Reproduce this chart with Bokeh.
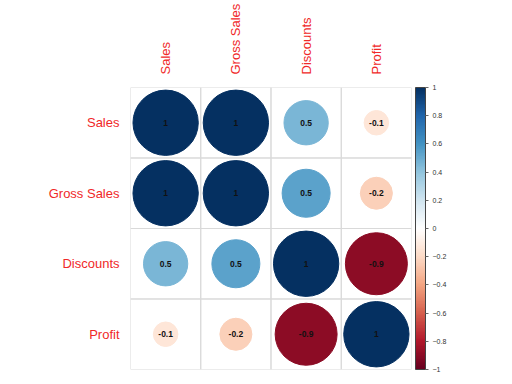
import numpy as np
from bokeh.plotting import figure
from bokeh.models import (ColumnDataSource, FactorRange, CategoricalAxis, LinearColorMapper,
                          ColorBar, FixedTicker)
from bokeh.core.properties import value
from bokeh.embed import file_html
from bokeh.resources import INLINE

variables = ["Sales", "Gross Sales", "Discounts", "Profit"]
corr = [
    [1.00, 1.00, 0.46, -0.14],
    [1.00, 1.00, 0.54, -0.24],
    [0.46, 0.54, 1.00, -0.90],
    [-0.14, -0.24, -0.90, 1.00],
]
labels = [
    ["1", "1", "0.5", "-0.1"],
    ["1", "1", "0.5", "-0.2"],
    ["0.5", "0.5", "1", "-0.9"],
    ["-0.1", "-0.2", "-0.9", "1"],
]
cbar_ticks = [-1, -0.8, -0.6, -0.4, -0.2, 0, 0.2, 0.4, 0.6, 0.8, 1]

anchors = ["#67001F", "#B2182B", "#D6604D", "#F4A582", "#FDDBC7", "#FFFFFF",
           "#D1E5F0", "#92C5DE", "#4393C3", "#2166AC", "#053061"]

def hex2rgb(h):
    return np.array([int(h[i:i + 2], 16) for i in (1, 3, 5)], dtype=float)

anchor_rgb = np.array([hex2rgb(h) for h in anchors])
anchor_pos = np.linspace(-1, 1, len(anchors))

def colour(v):
    rgb = [np.interp(v, anchor_pos, anchor_rgb[:, k]) for k in range(3)]
    return "#%02x%02x%02x" % tuple(int(round(c)) for c in rgb)

palette = [colour(v) for v in np.linspace(-1, 1, 200)]

xs, ys, rs, cols, txt = [], [], [], [], []
for i, rv in enumerate(variables):
    for j, cv in enumerate(variables):
        r = corr[i][j]
        xs.append(cv)
        ys.append(rv)
        rs.append(0.465 * np.sqrt(abs(r)))
        cols.append(colour(r))
        txt.append(labels[i][j])

src = ColumnDataSource(dict(x=xs, y=ys, r=rs, c=cols, t=txt))

p = figure(x_range=FactorRange(factors=variables),
           y_range=FactorRange(factors=list(reversed(variables))),
           frame_width=281, frame_height=282,
           min_border_left=130, min_border_top=81, min_border_bottom=8,
           min_border_right=10,
           output_backend="svg", toolbar_location=None,
           x_axis_location=None, y_axis_location="left")
p.outline_line_color = None
p.grid.visible = False
p.background_fill_color = "white"

p.rect(x="x", y="y", width=1, height=1, source=src, fill_color=None,
       line_color="#D9D9D9", line_width=1)
p.circle(x="x", y="y", radius="r", source=src, fill_color="c", line_color="c")
p.text(x="x", y="y", text="t", source=src, text_align="center", text_baseline="middle",
       text_font=value("Liberation Sans"), text_font_size="8.5px", text_font_style="bold",
       text_color="#111111")

red = "#F02828"
for ax in p.yaxis:
    ax.axis_line_color = None
    ax.major_tick_line_color = None
    ax.minor_tick_line_color = None
    ax.major_label_text_color = red
    ax.major_label_text_font = "Liberation Sans"
    ax.major_label_text_font_size = "13px"
    ax.major_label_standoff = 5

top = CategoricalAxis(axis_line_color=None, major_tick_line_color=None,
                      minor_tick_line_color=None, major_label_text_color=red,
                      major_label_text_font="Liberation Sans",
                      major_label_text_font_size="13px",
                      major_label_orientation="vertical", major_label_standoff=7)
p.add_layout(top, "above")

mapper = LinearColorMapper(palette=palette, low=-1, high=1)
cb = ColorBar(color_mapper=mapper, width=10, height=282, location=(4, 0),
              ticker=FixedTicker(ticks=cbar_ticks), padding=0, margin=0,
              major_label_text_font="Liberation Sans", major_label_text_font_size="7px",
              major_label_text_color="#333333", major_tick_line_color="#666666",
              major_tick_out=3, major_tick_in=0, label_standoff=4,
              bar_line_color="#444444", border_line_color=None,
              background_fill_color=None)
p.add_layout(cb, "right")

open("out.html", "w").write(file_html(p, INLINE))
